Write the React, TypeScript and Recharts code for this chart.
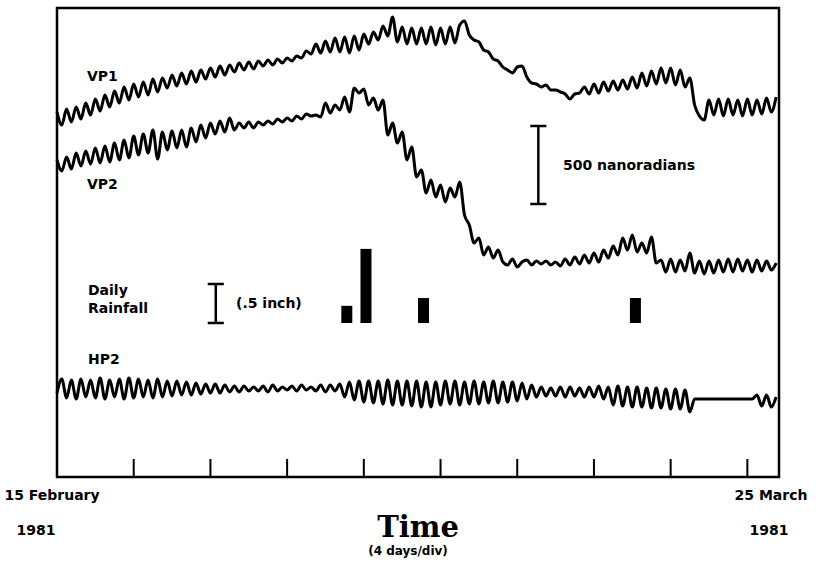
import React from 'react';
import { ComposedChart, Line, Bar, XAxis, YAxis, ReferenceLine, ReferenceArea } from 'recharts';

// Tilt records, 15 Feb - 25 Mar 1981, read every 6 hours.
// Values are in plot units (78 units = 500 nanoradians), offset per trace.
const SAMPLES_PER_DAY = 4;
const DAYS_SHOWN = 37.65;
const Y_TOP = 469;
const TICK_LEN = 18;

const vp1 = [
  365, 352, 368, 355, 370, 358, 374, 362, 378, 366,
  382, 370, 386, 374, 390, 377, 393, 380, 395, 382,
  398, 385, 399, 389, 402, 391, 404, 393, 406, 395,
  407, 398, 409, 400, 411, 402, 412, 405, 414, 407,
  415, 408, 416, 411, 417, 412, 418, 414, 419, 416,
  421, 419, 426, 423, 433, 424, 436, 425, 439, 425,
  440, 424, 441, 427, 443, 433, 445, 437, 451, 441,
  460, 435, 450, 433, 449, 433, 449, 433, 450, 432,
  449, 433, 450, 434, 452, 456, 442, 437, 435, 427,
  425, 418, 416, 410, 407, 404, 410, 411, 400, 394,
  393, 390, 392, 387, 387, 385, 383, 378, 383, 384,
  390, 383, 393, 384, 395, 386, 396, 387, 397, 388,
  400, 389, 404, 391, 406, 393, 409, 394, 409, 392,
  407, 390, 399, 372, 361, 357, 377, 362, 378, 361,
  378, 362, 377, 361, 378, 362, 377, 363, 379, 365,
  380,
];

const vp2 = [
  317, 306, 320, 308, 324, 311, 326, 313, 329, 314,
  331, 315, 334, 317, 337, 319, 341, 322, 343, 324,
  347, 318, 345, 327, 346, 329, 347, 330, 349, 335,
  352, 339, 354, 343, 356, 345, 359, 347, 354, 349,
  355, 349, 355, 352, 356, 353, 358, 355, 359, 356,
  361, 358, 363, 361, 362, 360, 374, 364, 372, 367,
  380, 365, 389, 384, 388, 372, 379, 367, 377, 342,
  354, 334, 345, 317, 330, 300, 307, 284, 297, 280,
  292, 275, 289, 280, 295, 262, 252, 234, 239, 222,
  230, 219, 227, 215, 212, 218, 210, 215, 217, 212,
  216, 213, 216, 212, 215, 211, 218, 212, 220, 213,
  222, 214, 224, 215, 227, 219, 231, 222, 239, 227,
  242, 225, 234, 224, 240, 214, 217, 205, 218, 205,
  217, 206, 224, 204, 216, 203, 216, 204, 217, 205,
  218, 205, 218, 206, 217, 205, 217, 206, 216, 207,
  214,
];

const hp2 = [
  84, 98, 79, 97, 78, 98, 80, 97, 79, 99,
  78, 97, 80, 98, 78, 99, 79, 98, 80, 97,
  79, 98, 80, 96, 81, 96, 82, 95, 82, 94,
  83, 93, 84, 93, 84, 92, 85, 91, 85, 91,
  86, 90, 86, 91, 85, 92, 86, 90, 87, 91,
  86, 92, 87, 90, 86, 92, 85, 92, 86, 93,
  80, 95, 77, 96, 75, 96, 74, 96, 73, 97,
  72, 96, 72, 96, 71, 96, 70, 95, 70, 95,
  72, 96, 73, 96, 72, 95, 73, 96, 73, 95,
  74, 96, 74, 95, 75, 95, 76, 94, 78, 92,
  80, 90, 81, 89, 81, 90, 80, 90, 81, 89,
  80, 90, 80, 91, 78, 90, 72, 91, 71, 90,
  70, 90, 70, 89, 69, 89, 69, 88, 68, 88,
  68, 87, 65, 78, 78, 78, 78, 78, 78, 78,
  78, 78, 78, 78, 78, 78, 82, 71, 82, 70,
  80,
];

// daily rainfall (inches)
const rainDays = [15.1, 16.1, 19.1, 30.15];
const rainInches = [0.22, 0.95, 0.32, 0.32];
const RAIN_BASE = 154;
const UNITS_PER_INCH = 78;

// scale markers
const TILT_BAR = { day: 25.1, from: 273, to: 351 };
const RAIN_BAR = { day: 8.28, from: RAIN_BASE, to: RAIN_BASE + 0.5 * UNITS_PER_INCH };

const divTicks = [4, 8, 12, 16, 20, 24, 28, 32, 36];

const toRows = (vals: number[]) => vals.map((v, i) => ({ day: i / SAMPLES_PER_DAY, v }));

const rainRows = rainDays.map((d, i) => ({
  day: d,
  range: [RAIN_BASE, RAIN_BASE + rainInches[i] * UNITS_PER_INCH],
}));

// fixed-width rain bar centred on its day
const RainBar = (props: any) => {
  const { x, y, width, height } = props;
  const w = 11;
  return <rect x={x + width / 2 - w / 2} y={y} width={w} height={height} fill="#000" />;
};

const IBeam = ({ day, from, to }: { day: number; from: number; to: number }) => {
  const half = 0.42;
  return (
    <>
      <ReferenceLine segment={[{ x: day, y: from }, { x: day, y: to }]} stroke="#000" strokeWidth={2.5} />
      <ReferenceLine segment={[{ x: day - half, y: from }, { x: day + half, y: from }]} stroke="#000" strokeWidth={2.5} />
      <ReferenceLine segment={[{ x: day - half, y: to }, { x: day + half, y: to }]} stroke="#000" strokeWidth={2.5} />
    </>
  );
};

const labelFont = { fontFamily: 'DejaVu Sans', fontWeight: 700, fontSize: 14 } as const;

export default function App() {
  const traces = [vp1, vp2, hp2];
  return (
    <div style={{ position: 'absolute', left: 0, top: 0, width: 816, height: 563, background: '#fff' }}>
      <ComposedChart
        width={816}
        height={563}
        data={rainRows}
        margin={{ top: 8, right: 37, bottom: 86, left: 57 }}
      >
        <XAxis dataKey="day" type="number" domain={[0, DAYS_SHOWN]} hide />
        <YAxis type="number" domain={[0, Y_TOP]} hide />
        <ReferenceArea x1={0} x2={DAYS_SHOWN} y1={0} y2={Y_TOP} fill="none" stroke="#000" strokeWidth={2.5} />
        {divTicks.map((d) => (
          <ReferenceLine key={d} segment={[{ x: d, y: 0 }, { x: d, y: TICK_LEN }]} stroke="#000" strokeWidth={2} />
        ))}
        {traces.map((t, k) => (
          <Line
            key={k}
            data={toRows(t)}
            dataKey="v"
            type="monotone"
            stroke="#000"
            strokeWidth={3}
            dot={false}
            isAnimationActive={false}
          />
        ))}
        <Bar dataKey="range" fill="#000" shape={<RainBar />} isAnimationActive={false} />
        {IBeam(TILT_BAR)}
        {IBeam(RAIN_BAR)}
      </ComposedChart>
      <svg width={816} height={563} style={{ position: 'absolute', left: 0, top: 0, pointerEvents: 'none' }}>
        <g {...labelFont} dominantBaseline="central">
          <text x={87} y={76}>VP1</text>
          <text x={87} y={184}>VP2</text>
          <text x={88} y={290}>Daily</text>
          <text x={88} y={308}>Rainfall</text>
          <text x={88} y={359}>HP2</text>
          <text x={236} y={303}>(.5 inch)</text>
          <text x={563} y={165}>500 nanoradians</text>
        </g>
        <g {...labelFont} dominantBaseline="central" textAnchor="middle">
          <text x={52} y={495}>15 February</text>
          <text x={36} y={530}>1981</text>
          <text x={771} y={495}>25 March</text>
          <text x={769} y={530}>1981</text>
        </g>
        <text x={418} y={527} textAnchor="middle" dominantBaseline="central" fontFamily="DejaVu Serif" fontWeight={700} fontSize={29}>
          Time
        </text>
        <text x={408} y={551} textAnchor="middle" dominantBaseline="central" fontFamily="DejaVu Sans" fontWeight={700} fontSize={12}>
          (4 days/div)
        </text>
      </svg>
    </div>
  );
}
